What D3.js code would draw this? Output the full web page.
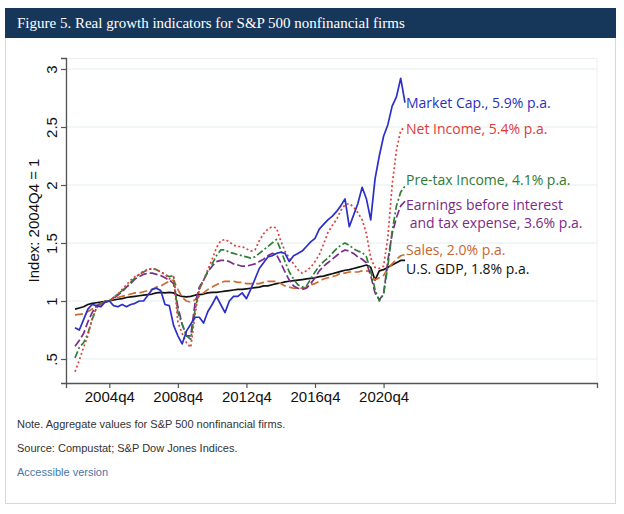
<!DOCTYPE html>
<html><head><meta charset="utf-8">
<script src="https://cdn.jsdelivr.net/npm/d3@7/dist/d3.min.js"></script>
<style>
html,body{margin:0;padding:0;background:#fff;}
svg{display:block;}
</style></head>
<body>
<svg id="chart" width="624" height="514"></svg>
<script>
// ---- data (quarterly, 2002q4 .. 2022q1), index 2004Q4 = 1 ----
const startYear = 2002.75;
const marketCap = [0.77,0.75,0.84,0.93,0.97,0.96,0.95,0.99,1.00,0.96,
  0.95,0.97,0.95,0.97,0.98,1.00,1.00,1.05,1.10,1.11,
  1.09,0.97,0.96,0.79,0.70,0.63,0.74,0.80,0.86,0.86,
  0.81,0.91,0.97,1.04,0.97,0.90,1.00,1.04,1.04,1.07,
  1.02,1.10,1.19,1.28,1.33,1.38,1.39,1.41,1.42,1.41,
  1.34,1.39,1.41,1.43,1.47,1.51,1.54,1.62,1.66,1.70,
  1.73,1.77,1.82,1.88,1.64,1.74,1.84,1.98,1.88,1.70,
  2.05,2.25,2.42,2.52,2.68,2.76,2.92,2.71];
const netIncome = [0.39,0.49,0.60,0.70,0.85,0.94,0.98,1.00,1.00,1.03,
  1.06,1.10,1.14,1.18,1.21,1.23,1.26,1.27,1.28,1.27,
  1.25,1.23,1.19,1.21,0.82,0.72,0.64,0.60,0.88,1.10,
  1.18,1.27,1.36,1.46,1.52,1.53,1.51,1.48,1.47,1.47,
  1.45,1.43,1.44,1.52,1.58,1.62,1.64,1.63,1.52,1.43,
  1.37,1.32,1.27,1.24,1.26,1.29,1.34,1.40,1.49,1.59,
  1.65,1.70,1.78,1.83,1.84,1.81,1.76,1.70,1.58,1.37,
  1.29,1.28,1.30,1.55,2.00,2.30,2.47,2.50];
const preTaxIncome = [0.51,0.60,0.64,0.72,0.84,0.94,0.98,1.00,1.00,1.03,
  1.06,1.09,1.12,1.16,1.20,1.23,1.25,1.27,1.28,1.27,
  1.25,1.23,1.21,1.22,0.90,0.80,0.70,0.67,0.92,1.10,
  1.18,1.26,1.32,1.39,1.44,1.44,1.42,1.41,1.40,1.39,
  1.38,1.37,1.38,1.41,1.44,1.47,1.50,1.53,1.44,1.34,
  1.25,1.19,1.14,1.12,1.13,1.19,1.25,1.30,1.34,1.37,
  1.41,1.45,1.48,1.50,1.48,1.45,1.43,1.42,1.38,1.26,
  1.10,1.00,1.06,1.30,1.60,1.82,1.94,1.99];
const ebit = [0.61,0.66,0.72,0.82,0.90,0.96,0.98,0.99,1.00,1.02,
  1.05,1.08,1.12,1.15,1.19,1.21,1.23,1.24,1.24,1.23,
  1.22,1.20,1.18,1.15,0.95,0.80,0.70,0.70,0.98,1.12,
  1.18,1.25,1.30,1.34,1.35,1.35,1.34,1.32,1.31,1.30,
  1.30,1.31,1.32,1.34,1.36,1.39,1.41,1.40,1.33,1.25,
  1.18,1.13,1.11,1.10,1.11,1.15,1.20,1.26,1.30,1.33,
  1.36,1.39,1.42,1.44,1.43,1.41,1.38,1.36,1.33,1.22,
  1.07,1.01,1.06,1.35,1.58,1.72,1.82,1.86];
const sales = [0.88,0.885,0.89,0.91,0.93,0.95,0.97,0.99,1.00,1.02,
  1.03,1.04,1.05,1.06,1.07,1.07,1.08,1.09,1.10,1.12,
  1.13,1.15,1.17,1.18,1.10,1.03,1.00,0.99,1.01,1.04,
  1.07,1.10,1.12,1.14,1.16,1.17,1.17,1.17,1.16,1.16,
  1.15,1.15,1.15,1.15,1.16,1.17,1.17,1.17,1.15,1.13,
  1.12,1.11,1.11,1.11,1.12,1.14,1.15,1.17,1.19,1.20,
  1.21,1.22,1.24,1.24,1.25,1.25,1.25,1.26,1.26,1.25,
  1.18,1.20,1.22,1.28,1.32,1.36,1.39,1.40];
const gdp = [0.93,0.94,0.95,0.97,0.98,0.985,0.99,0.995,1.00,1.01,
  1.015,1.02,1.03,1.035,1.04,1.045,1.05,1.055,1.06,1.07,
  1.075,1.07,1.075,1.07,1.05,1.04,1.035,1.04,1.05,1.055,
  1.06,1.07,1.075,1.075,1.08,1.085,1.09,1.095,1.10,1.10,
  1.105,1.11,1.115,1.12,1.13,1.13,1.14,1.15,1.155,1.165,
  1.17,1.175,1.18,1.185,1.19,1.195,1.20,1.21,1.215,1.225,
  1.235,1.245,1.255,1.265,1.27,1.28,1.29,1.30,1.31,1.29,
  1.18,1.26,1.27,1.29,1.31,1.33,1.35,1.35];

const seriesLabels = [
  ["Market Cap., 5.9% p.a."],
  ["Net Income, 5.4% p.a."],
  ["Pre-tax Income, 4.1% p.a."],
  ["Earnings before interest", " and tax expense, 3.6% p.a."],
  ["Sales, 2.0% p.a."],
  ["U.S. GDP, 1.8% p.a."]
];
const xTicks = [2004.75, 2008.75, 2012.75, 2016.75, 2020.75];
const xTickLabels = ["2004q4", "2008q4", "2012q4", "2016q4", "2020q4"];
const yTicks = [0.5, 1, 1.5, 2, 2.5, 3];
const yTickLabels = [".5", "1", "1.5", "2", "2.5", "3"];

const title = "Figure 5. Real growth indicators for S&P 500 nonfinancial firms";
const yTitle = "Index: 2004Q4 = 1";
const notes = ["Note. Aggregate values for S&P 500 nonfinancial firms.", "Source: Compustat; S&P Dow Jones Indices."];
const linkText = "Accessible version";

// ---- styles ----
const styles = [
  {color:"#2b2fc8", label:"#2a2fbf", dash:null, w:1.7},
  {color:"#e0403a", label:"#dd3b36", dash:"2,2.5", w:1.7},
  {color:"#2f7f35", label:"#2f7a33", dash:"7,2.5,2,2.5", w:1.7},
  {color:"#7b2c8c", label:"#7a2a88", dash:"8,3", w:1.7},
  {color:"#cd6a30", label:"#c9652e", dash:"8,3.5", w:1.7},
  {color:"#111111", label:"#111111", dash:null, w:1.7}
];
const labelLineY = [[102], [128], [179], [204, 222], [249], [268]];
const allSeries = [marketCap, netIncome, preTaxIncome, ebit, sales, gdp];

const svg = d3.select("#chart");

// card
svg.append("rect").attr("x",5.5).attr("y",8.5).attr("width",610).attr("height",495)
  .attr("fill","#fff").attr("stroke","#d6d9dc");
svg.append("rect").attr("x",5).attr("y",8).attr("width",611).attr("height",30).attr("fill","#17375a");
svg.append("text").attr("x",17).attr("y",28).attr("fill","#fff")
  .attr("font-family","'Liberation Serif','DejaVu Serif',serif").attr("font-size",15).text(title);

// plot
const L = 66, R = 597, T = 58, B = 383;
const x = d3.scaleLinear().domain([2002.224, 2033.2]).range([L, R]);
const y = d3.scaleLinear().domain([1 - (B-301)/116, 1 + (301-T)/116]).range([B, T]);

svg.append("rect").attr("x",L).attr("y",T+0.5).attr("width",R-L).attr("height",B-T)
  .attr("fill","#fff").attr("stroke","#eceeef");

// grid
svg.append("g").selectAll("line").data(yTicks).join("line")
  .attr("x1",L).attr("x2",R).attr("y1",d=>y(d)).attr("y2",d=>y(d))
  .attr("stroke","#e3eef0").attr("stroke-width",1.2);

// axes
const yAxis = d3.axisLeft(y).tickValues(yTicks).tickFormat((d,i)=>yTickLabels[i]).tickSize(5).tickPadding(4);
const gy = svg.append("g").attr("transform",`translate(${L},0)`).call(yAxis);
gy.select(".domain").attr("stroke","#555").attr("stroke-width",1.3);
gy.selectAll(".tick line").attr("stroke","#555").attr("stroke-width",1.2);
gy.selectAll(".tick text").attr("font-family","'Liberation Sans',Arial,sans-serif").attr("font-size",15).attr("fill","#111")
  .attr("text-anchor","middle").attr("dy",null).attr("x",0)
  .attr("transform","translate(-15,0) rotate(-90)").attr("dominant-baseline","central");

const xAxis = d3.axisBottom(x).tickValues(xTicks).tickFormat((d,i)=>xTickLabels[i]).tickSize(5).tickPadding(3);
const gx = svg.append("g").attr("transform",`translate(0,${B})`).call(xAxis);
gx.select(".domain").attr("stroke","#555").attr("stroke-width",1.3);
gx.selectAll(".tick line").attr("stroke","#555").attr("stroke-width",1.2);
gx.selectAll(".tick text").attr("font-family","'Liberation Sans',Arial,sans-serif").attr("font-size",15).attr("fill","#111");

svg.append("text").attr("transform",`translate(33,${(T+B)/2}) rotate(-90)`)
  .attr("text-anchor","middle").attr("dominant-baseline","central")
  .attr("font-family","'Liberation Sans',Arial,sans-serif").attr("font-size",15).attr("fill","#111").text(yTitle);

// lines
const line = d3.line().x((d,i)=>x(startYear + i/4)).y(d=>y(d));
[5,4,3,2,1,0].forEach(k=>{
  const s = styles[k];
  svg.append("path").datum(allSeries[k]).attr("d",line).attr("fill","none")
    .attr("stroke",s.color).attr("stroke-width",s.w).attr("stroke-linejoin","round")
    .attr("stroke-dasharray",s.dash);
});

// labels
seriesLabels.forEach((lines,k)=>{
  lines.forEach((t,j)=>{
    svg.append("text").attr("x",406).attr("y",labelLineY[k][j]).attr("dominant-baseline","central")
      .attr("font-family","'Open Sans',sans-serif").attr("font-size",14).attr("fill",styles[k].label)
      .attr("xml:space","preserve").style("white-space","pre").text(t);
  });
});

// notes
notes.forEach((t,i)=>{
  svg.append("text").attr("x",17).attr("y",428 + i*24).attr("font-family","'Liberation Sans',Arial,sans-serif")
    .attr("font-size",11).attr("fill","#333").text(t);
});
svg.append("text").attr("x",17).attr("y",476).attr("font-family","'Liberation Sans',Arial,sans-serif")
  .attr("font-size",11).attr("fill","#4a76a8").text(linkText);
</script>
</body></html>
